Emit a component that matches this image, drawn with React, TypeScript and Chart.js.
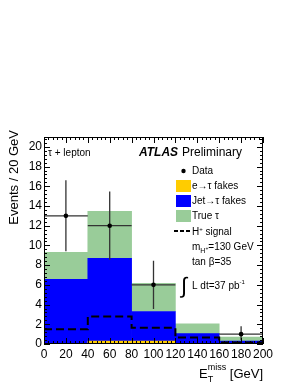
import React, { useEffect, useRef } from "react";
import { Chart, registerables } from "chart.js";

Chart.register(...registerables);

// ---------------- data ----------------
const binEdges = [0, 40, 80, 120, 160, 200];
const binLabels = ["0-40", "40-80", "80-120", "120-160", "160-200"];
const eFakes = [0, 0.3, 0.3, 0, 0];
const jetFakes = [6.55, 8.4, 3.0, 1.05, 0.3];
const trueTau = [2.75, 4.75, 2.85, 1.0, 0.4];
const signalValues = [1.5, 2.8, 1.65, 0.65, 0.15, 0.15];
const dataX = [20, 60, 100, 180];
const dataY = [13, 12, 6, 1];
const dataErrLow = [3.6, 3.46, 2.45, 0.6];
const dataErrHigh = [3.6, 3.46, 2.45, 0.8];
const dataHalfWidth = 20;

const X_MIN = 0;
const X_MAX = 200;
const X_STEP = 20;
const X_MINOR = 4;
const Y_MIN = 0;
const Y_MAX = 21;
const Y_STEP = 2;
const Y_MINOR = 0.4;

const legendLabels = ["Data", "e\u2192\u03c4 fakes", "Jet\u2192\u03c4 fakes", "True \u03c4", "H", "signal"];
const channelLabel = "\u03c4 + lepton";
const yTitle = "Events / 20 GeV";

const COLORS = {
  e: "#FFCC00",
  jet: "#0000FF",
  tau: "#99CC99",
};

const FONT = "'Liberation Sans', Arial, Helvetica, sans-serif";
const f = (size: number, style = "") => `${style} ${size}px ${FONT}`.trim();

type Part = { t: string; size: number; dy?: number; style?: string };

function drawParts(ctx: CanvasRenderingContext2D, x: number, y: number, parts: Part[]) {
  let cx = x;
  for (const p of parts) {
    ctx.font = f(p.size, p.style || "");
    const w = ctx.measureText(p.t).width;
    ctx.fillText(p.t, cx, y + (p.dy || 0));
    cx += w;
  }
  return cx;
}

const decorPlugin = {
  id: "decor",
  beforeDatasetDraw(chart: any, args: any) {
    if (args.index !== 0) return;
    const ctx = chart.ctx as CanvasRenderingContext2D;
    const xs = chart.scales.x;
    const ys = chart.scales.y;
    ctx.save();
    ctx.strokeStyle = "#333";
    ctx.lineWidth = 1.3;
    for (let i = 0; i < dataX.length; i++) {
      const px = xs.getPixelForValue(dataX[i]);
      const py = ys.getPixelForValue(dataY[i]);
      ctx.beginPath();
      ctx.moveTo(xs.getPixelForValue(dataX[i] - dataHalfWidth), py);
      ctx.lineTo(xs.getPixelForValue(dataX[i] + dataHalfWidth), py);
      ctx.moveTo(px, ys.getPixelForValue(dataY[i] - dataErrLow[i]));
      ctx.lineTo(px, ys.getPixelForValue(dataY[i] + dataErrHigh[i]));
      ctx.stroke();
    }
    ctx.restore();
  },
  afterDraw(chart: any) {
    const ctx = chart.ctx as CanvasRenderingContext2D;
    const xs = chart.scales.x;
    const ys = chart.scales.y;
    const { left, top, right, bottom } = chart.chartArea;
    ctx.save();
    // frame
    ctx.strokeStyle = "#000";
    ctx.lineWidth = 1;
    ctx.strokeRect(Math.round(left) + 0.5, Math.round(top) + 0.5, Math.round(right - left) - 1, Math.round(bottom - top) - 1);
    // ticks
    ctx.beginPath();
    const nx = Math.round((X_MAX - X_MIN) / X_MINOR);
    for (let i = 0; i <= nx; i++) {
      const v = X_MIN + i * X_MINOR;
      const px = Math.round(xs.getPixelForValue(v)) + 0.5;
      const len = Math.abs(v % X_STEP) < 1e-6 ? 6 : 3;
      ctx.moveTo(px, bottom);
      ctx.lineTo(px, bottom - len);
      ctx.moveTo(px, top);
      ctx.lineTo(px, top + len);
    }
    const ny = Math.floor((Y_MAX - Y_MIN) / Y_MINOR + 1e-6);
    for (let i = 0; i <= ny; i++) {
      const v = Y_MIN + i * Y_MINOR;
      const py = Math.round(ys.getPixelForValue(v)) + 0.5;
      const len = i % 5 === 0 ? 6 : 3;
      ctx.moveTo(left, py);
      ctx.lineTo(left + len, py);
      ctx.moveTo(right, py);
      ctx.lineTo(right - len, py);
    }
    ctx.stroke();

    ctx.fillStyle = "#000";
    ctx.textBaseline = "alphabetic";
    // y title
    ctx.save();
    ctx.translate(14, 130);
    ctx.rotate(-Math.PI / 2);
    ctx.font = f(13);
    ctx.textAlign = "right";
    ctx.textBaseline = "middle";
    ctx.fillText(yTitle, 0, 0);
    ctx.restore();

    // x title  E_T^miss [GeV]
    ctx.textAlign = "left";
    ctx.font = f(13);
    const wE = ctx.measureText("E").width;
    const wRest = ctx.measureText(" [GeV]").width;
    ctx.font = f(9);
    const wMiss = ctx.measureText("miss").width;
    const total = wE + wMiss + wRest;
    const x0 = right - total;
    ctx.font = f(13);
    ctx.fillText("E", x0, 378);
    ctx.font = f(9);
    ctx.fillText("T", x0 + wE, 382);
    ctx.fillText("miss", x0 + wE, 370);
    ctx.font = f(13);
    ctx.fillText(" [GeV]", x0 + wE + wMiss, 378);

    // channel label
    ctx.font = f(10);
    ctx.fillText(channelLabel, 48, 156);

    // ATLAS Preliminary
    ctx.font = f(12, "italic bold");
    ctx.fillText("ATLAS", 139, 156);
    ctx.font = f(12);
    ctx.fillText("Preliminary", 182, 156);

    // legend
    const tx = 192;
    const rows = [171, 186, 201, 216, 231];
    ctx.textBaseline = "middle";
    ctx.font = f(10);
    ctx.beginPath();
    ctx.arc(183.5, rows[0], 2.2, 0, Math.PI * 2);
    ctx.fill();
    ctx.fillText(legendLabels[0], tx, rows[0] + 0.5);
    const boxes = [COLORS.e, COLORS.jet, COLORS.tau];
    for (let i = 0; i < 3; i++) {
      ctx.fillStyle = boxes[i];
      ctx.fillRect(176, rows[i + 1] - 6, 15, 12);
      ctx.fillStyle = "#000";
      ctx.fillText(legendLabels[i + 1], tx, rows[i + 1] + 0.5);
    }
    ctx.save();
    ctx.setLineDash([4, 2]);
    ctx.lineWidth = 2;
    ctx.beginPath();
    ctx.moveTo(174, rows[4]);
    ctx.lineTo(191, rows[4]);
    ctx.stroke();
    ctx.restore();
    ctx.textBaseline = "alphabetic";
    drawParts(ctx, tx, rows[4] + 4, [
      { t: "H", size: 10 },
      { t: "+", size: 6, dy: -4 },
      { t: " " + legendLabels[5], size: 10 },
    ]);
    drawParts(ctx, tx, 250, [
      { t: "m", size: 10 },
      { t: "H", size: 7, dy: 2.5 },
      { t: "+", size: 5, dy: 0 },
      { t: "=130 GeV", size: 10 },
    ]);
    drawParts(ctx, tx, 265, [{ t: "tan \u03b2=35", size: 10 }]);
    ctx.font = f(22);
    ctx.fillText("\u222b", 181, 293);
    drawParts(ctx, tx, 289, [
      { t: "L dt=37 pb", size: 10 },
      { t: "-1", size: 6, dy: -5 },
    ]);
    ctx.restore();
  },
};

export default function App() {
  const ref = useRef<HTMLCanvasElement>(null);
  useEffect(() => {
    const bar = (label: string, vals: number[], color: string) => ({
      type: "bar" as const,
      label,
      data: vals,
      backgroundColor: color,
      borderWidth: 0,
      barPercentage: 1,
      categoryPercentage: 1,
      grouped: false,
      stack: "mc",
      order: 2,
      xAxisID: "xb",
    });
    const chart = new Chart(ref.current as HTMLCanvasElement, {
      type: "bar",
      data: {
        labels: binLabels,
        datasets: [
          {
            type: "scatter" as const,
            label: legendLabels[0],
            data: dataX.map((x, i) => ({ x, y: dataY[i] })),
            backgroundColor: "#000",
            borderWidth: 0,
            pointRadius: 2.3,
            stack: "data",
            order: 0,
            xAxisID: "x",
          } as any,
          {
            type: "line" as const,
            label: "signal",
            data: binEdges.map((x, i) => ({ x, y: signalValues[i] })),
            borderColor: "#000",
            borderWidth: 2,
            borderDash: [8, 4],
            stepped: "before",
            pointRadius: 0,
            fill: false,
            stack: "sig",
            order: 1,
            xAxisID: "x",
          } as any,
          bar(legendLabels[1], eFakes, COLORS.e),
          bar(legendLabels[2], jetFakes, COLORS.jet),
          bar(legendLabels[3], trueTau, COLORS.tau),
        ],
      },
      options: {
        responsive: false,
        animation: false,
        layout: { padding: { top: 137, right: 36, left: 0, bottom: 0 } },
        plugins: { legend: { display: false }, tooltip: { enabled: false } },
        scales: {
          xb: {
            type: "category",
            display: false,
            offset: true,
            stacked: true,
            grid: { display: false },
          },
          x: {
            type: "linear",
            position: "bottom",
            min: X_MIN,
            max: X_MAX,
            offset: false,
            grid: { display: false, drawTicks: false },
            border: { display: false },
            ticks: {
              stepSize: X_STEP,
              autoSkip: false,
              maxRotation: 0,
              minRotation: 0,
              padding: 3,
              color: "#000",
              font: { size: 12, family: FONT },
            },
            afterFit: (s: any) => {
              s.height = 43;
            },
          },
          y: {
            type: "linear",
            min: Y_MIN,
            max: Y_MAX,
            stacked: true,
            grid: { display: false, drawTicks: false },
            border: { display: false },
            ticks: {
              stepSize: Y_STEP,
              includeBounds: false,
              autoSkip: false,
              padding: 2,
              color: "#000",
              font: { size: 12, family: FONT },
            },
            afterFit: (s: any) => {
              s.width = 44;
            },
          },
        },
      } as any,
      plugins: [decorPlugin],
    });
    return () => chart.destroy();
  }, []);
  return (
    <div style={{ position: "absolute", left: 0, top: 0, width: 299, height: 387, background: "#fff" }}>
      <canvas ref={ref} width={299} height={387} style={{ display: "block" }} />
    </div>
  );
}
